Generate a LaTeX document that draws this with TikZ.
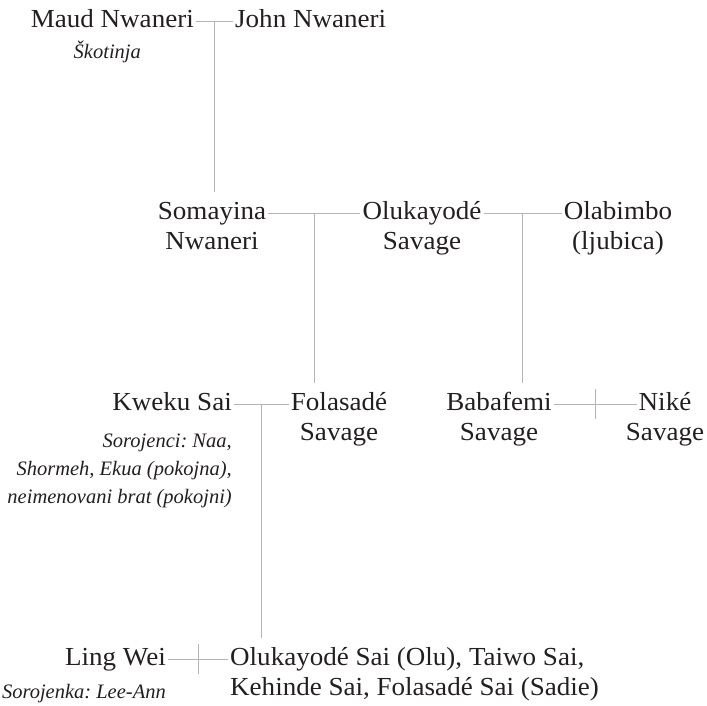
\documentclass[tikz,border=0pt]{standalone}
\usepackage{fontspec}
\setmainfont{Liberation Serif}[UprightFeatures={FakeStretch=1.04}]
\usetikzlibrary{positioning}
\definecolor{inkcol}{HTML}{231F20}
\definecolor{linkcol}{HTML}{B4B4B8}
\frenchspacing

\begin{document}
\begin{tikzpicture}[
  x=1pt, y=-1pt,
  text=inkcol,
  person/.style={font=\fontsize{26}{30}\selectfont, inner xsep=0pt, inner ysep=0pt,
                 text height=19pt, text depth=7pt},
  note/.style={font=\fontsize{20.5}{28}\selectfont\itshape, inner sep=0pt},
  link/.style={draw=linkcol, line width=0.8pt, shorten <=2pt, shorten >=2pt},
  descent/.style={draw=linkcol, line width=0.8pt, shorten >=8pt},
  split/.style={draw=linkcol, line width=0.8pt},
]
\useasboundingbox (0,0) rectangle (707,705);

% ------------------------------------------------------ first generation
\node[person, anchor=east] (maud) at (194,21) {Maud Nwaneri};
\node[person, anchor=west] (john) at (235,21) {John Nwaneri};
\node[note, text height=14pt, text depth=5pt, below=10pt of maud, xshift=-5pt] (maudnote) {Škotinja};

% ----------------------------------------------------- second generation
\node[person] (somayina) at (212,213) {Somayina};
\node[person, below=4pt of somayina] (somayina2) {Nwaneri};
\node[person] (olukayode) at (422,213) {Olukayodé};
\node[person, below=4pt of olukayode] (olukayode2) {Savage};
\node[person] (olabimbo) at (618,213) {Olabimbo};
\node[person, below=4pt of olabimbo] (olabimbo2) {(ljubica)};

% ------------------------------------------------------ third generation
\node[person, anchor=east] (kweku) at (232,404) {Kweku Sai};
\node[note, align=right, below left=17pt and 0pt of kweku.south east] (kwekunote)
  {Sorojenci: Naa,\\ Shormeh, Ekua (pokojna),\\ neimenovani brat (pokojni)};
\node[person] (folasade) at (339,404) {Folasadé};
\node[person, below=4pt of folasade] (folasade2) {Savage};
\node[person] (babafemi) at (499,404) {Babafemi};
\node[person, below=4pt of babafemi] (babafemi2) {Savage};
\node[person] (nike) at (665,404) {Niké};
\node[person, below=4pt of nike] (nike2) {Savage};

% ----------------------------------------------------- fourth generation
\node[person, anchor=east] (lingwei) at (166,659) {Ling Wei};
\node[note, text height=14pt, text depth=5pt, below left=12pt and 0pt of lingwei.south east] (lingnote)
  {Sorojenka: Lee-Ann};
\node[person, anchor=west] (kids) at (230,659) {Olukayodé Sai (Olu), Taiwo Sai,};
\node[person, below right=4pt and 0pt of kids.south west] (kids2) {Kehinde Sai, Folasadé Sai (Sadie)};

% --------------------------------------------------------- partner lines
\draw[link] (maud)      -- (john)      coordinate[midway] (m1);
\draw[link] (somayina)  -- (olukayode) coordinate[midway] (m2);
\draw[link] (olukayode) -- (olabimbo)  coordinate[midway] (m3);
\draw[link] (kweku)     -- (folasade)  coordinate[midway] (m4);
\draw[link] (babafemi)  -- (nike)      coordinate[midway] (m5);
\draw[link] (lingwei)   -- (kids)      coordinate[midway] (m6);

% ---------------------------------------------------------- descent lines
\draw[descent] (m1) -- (m1 |- somayina.north);
\draw[descent] (m2) -- (m2 |- folasade.north);
\draw[descent] (m3) -- (m3 |- babafemi.north);
\draw[descent] (m4) -- (m4 |- kids.north);

% ----------------------------------------------------------------- splits
\draw[split] ([yshift=15pt]m5) -- ([yshift=-15pt]m5);
\draw[split] ([yshift=15pt]m6) -- ([yshift=-15pt]m6);

\end{tikzpicture}
\end{document}
